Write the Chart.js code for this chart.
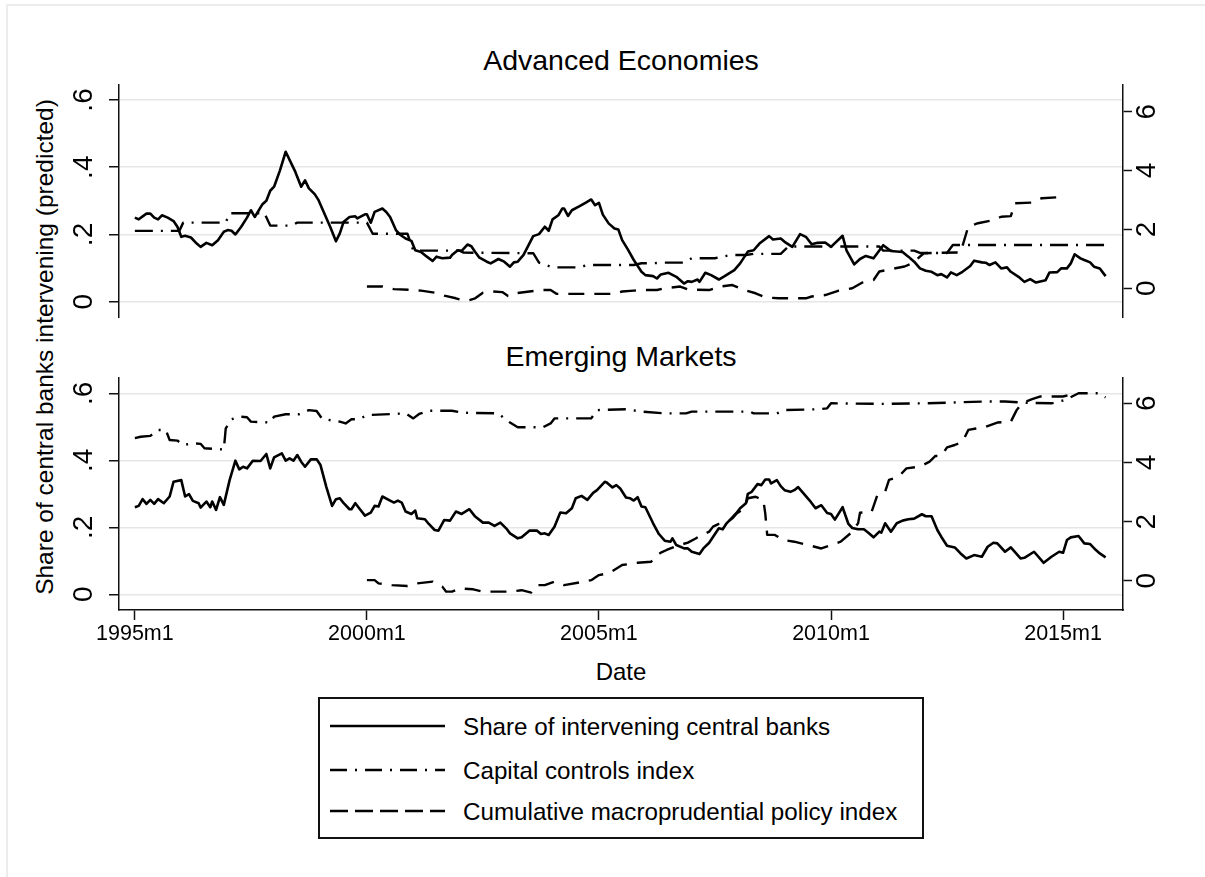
<!DOCTYPE html>
<html>
<head>
<meta charset="utf-8">
<title>Share of intervening central banks, capital controls and macroprudential policy</title>
<script src="https://cdn.jsdelivr.net/npm/chart.js@4.4.1/dist/chart.umd.min.js"></script>
<style>
  html, body { margin: 0; padding: 0; background: #fff; }
  body {
    width: 1205px; height: 877px; position: relative; overflow: hidden;
    font-family: 'Liberation Sans', Arial, Helvetica, sans-serif; color: #000;
  }
  .frame {
    position: absolute; left: 6px; top: 4px; right: -10px; bottom: -10px;
    border-top: 2px solid #ececec; border-left: 2px solid #ececec;
  }
  canvas { position: absolute; left: 0; }
  .panel-title {
    position: absolute; left: 119px; width: 1004px; text-align: center;
    font-size: 28.5px; line-height: 32px; white-space: nowrap;
  }
  .y-title {
    position: absolute; left: 45px; top: 347px; white-space: nowrap;
    font-size: 24.5px; line-height: 28px;
    transform: translate(-50%, -50%) rotate(-90deg);
  }
  .x-title {
    position: absolute; left: 119px; width: 1004px; top: 658px; text-align: center;
    font-size: 24px; line-height: 27px;
  }
  .legend-box {
    position: absolute; left: 318px; top: 697px; width: 606px; height: 142px;
    box-sizing: border-box; border: 2px solid #111;
  }
  .key-line { position: absolute; left: 330px; width: 115px; height: 6px; }
  .key-text { position: absolute; left: 463px; font-size: 24.2px; line-height: 27px; white-space: nowrap; }
</style>
</head>
<body>
<div class="frame"></div>

<div class="panel-title" style="top:44px">Advanced Economies</div>
<div class="panel-title" style="top:340px">Emerging Markets</div>
<div class="y-title">Share of central banks intervening (predicted)</div>
<div class="x-title">Date</div>

<canvas id="aePanel" width="1205" height="234" style="top:84px"></canvas>
<canvas id="emPanel" width="1205" height="273" style="top:377px"></canvas>

<div class="legend-box"></div>
<svg class="key-line" style="top:723px"><line x1="0" y1="3" x2="115" y2="3" stroke="#000" stroke-width="2.4"/></svg>
<div class="key-text" style="top:713px">Share of intervening central banks</div>
<svg class="key-line" style="top:767px"><line x1="0" y1="3" x2="115" y2="3" stroke="#000" stroke-width="2.4" stroke-dasharray="17 8 2 8"/></svg>
<div class="key-text" style="top:757px">Capital controls index</div>
<svg class="key-line" style="top:808px"><line x1="0" y1="3" x2="115" y2="3" stroke="#000" stroke-width="2.4" stroke-dasharray="18 7"/></svg>
<div class="key-text" style="top:798px">Cumulative macroprudential policy index</div>

<script>
// months are counted from 1995m1 = 0
var xTickMonths = [0, 60, 120, 180, 240];
var xTickLabels = ['1995m1', '2000m1', '2005m1', '2010m1', '2015m1'];
var shareTicks = [0, 0.2, 0.4, 0.6];
var indexTicks = [0, 2, 4, 6];

// Advanced economies: share of intervening central banks (left axis)
var aeShareMonths = [
  0, 1, 3, 4, 5, 6, 7, 8.5, 10, 11,
  12, 13, 14.5, 16, 17, 18.5, 20, 21.5, 23, 24,
  25, 26, 27.5, 29, 30, 31, 33, 34, 35, 36,
  37.5, 39, 40.5, 41.5, 43, 44, 45, 46.5, 47.5, 49,
  50.5, 52, 53, 54, 55.5, 57, 57.5, 59.5, 60, 61,
  62, 64, 65, 66, 67.5, 68.5, 70, 71.5, 72.5, 74,
  75.5, 77, 78, 79.5, 81.5, 82, 83.5, 84.5, 86, 87,
  88, 89, 91, 92, 94, 95.5, 97, 98, 99, 100.5,
  103, 104.5, 106, 107, 108, 109.5, 110.5, 111, 112, 113,
  115, 116.5, 118, 119, 120, 121, 122.5, 124, 125, 126,
  127.5, 129, 131, 132, 134, 135, 136, 138, 140, 142,
  143, 144, 145.5, 146, 147.5, 149, 151, 152.5, 155, 156.5,
  158.5, 160, 161.5, 164, 165, 167, 168, 170, 172, 173.5,
  175, 176.5, 178.5, 180, 183, 184, 186, 187.5, 189, 191,
  193.5, 195.5, 198.5, 200, 201.5, 203, 204.5, 206, 207.5, 208.5,
  210, 211, 212.5, 214, 216, 217, 219, 220, 221, 222.5,
  224, 225.5, 226.5, 228.5, 230, 231.5, 233, 235.5, 236.5, 238.5,
  239.5, 241, 242, 243, 244.5, 245.5, 247, 248, 249.5, 251
];
var aeShare = [
  .25, .245, .262, .262, .25, .245, .257, .25, .24, .223,
  .193, .196, .191, .173, .163, .175, .168, .183, .208, .213,
  .211, .2, .223, .25, .272, .252, .29, .3, .33, .342,
  .39, .446, .41, .386, .342, .361, .337, .32, .302, .262,
  .223, .18, .203, .238, .252, .254, .248, .26, .26, .235,
  .267, .277, .267, .252, .213, .2, .188, .181, .153, .148,
  .134, .121, .134, .129, .131, .139, .153, .151, .17, .165,
  .148, .132, .119, .114, .127, .119, .104, .117, .119, .139,
  .195, .201, .223, .211, .245, .257, .277, .277, .255, .272,
  .284, .294, .304, .287, .294, .259, .233, .218, .215, .183,
  .155, .124, .089, .079, .076, .069, .081, .086, .074, .054,
  .061, .059, .066, .059, .086, .079, .066, .076, .094, .114,
  .149, .153, .173, .195, .185, .188, .178, .163, .201, .193,
  .171, .175, .176, .163, .196, .153, .111, .127, .136, .129,
  .168, .151, .148, .134, .119, .099, .092, .089, .079, .082,
  .072, .087, .079, .089, .106, .122, .117, .116, .109, .117,
  .099, .102, .089, .074, .059, .067, .057, .064, .087, .088,
  .099, .099, .114, .141, .129, .124, .117, .104, .099, .076
];

// Advanced economies: capital controls index (right axis)
var aeCapitalMonths = [0, 11.5, 12.5, 23.5, 24.5, 33.5, 35, 40.5, 42, 60, 61.5, 70.5, 72, 84, 85, 103, 104.5, 108, 115, 117,
  129, 131, 134, 136, 142, 144, 150, 154, 158, 160, 167, 169, 192.5, 193.5, 201.5, 203, 210, 211.5, 251];
var aeCapital = [1.95, 1.95, 2.23, 2.23, 2.55, 2.55, 2.13, 2.13, 2.23, 2.23, 1.85, 1.85, 1.28, 1.28, 1.21, 1.19, 0.87, 0.71, 0.71, 0.79,
  0.79, 0.85, 0.85, 0.87, 0.87, 1.02, 1.02, 1.13, 1.13, 1.17, 1.17, 1.42, 1.42, 1.28, 1.28, 1.2, 1.2, 1.47, 1.47];

// Advanced economies: cumulative macroprudential policy index (right axis)
var aeMacroMonths = [60, 64, 67, 71, 74, 77.5, 80, 83, 84.5, 86.5, 88, 90, 92.5, 95, 96.5, 98.5, 102, 105.5, 107.5, 109,
  124, 126, 129, 132, 135, 137, 141, 143, 148.5, 151.5, 154.5, 157.5, 160.5, 163, 166.5, 173.5, 175, 178.5, 182, 185.5,
  188, 191, 192.5, 195.5, 199, 201, 204, 213.5, 215.5, 218, 221.5, 224, 226.5, 227.5, 232, 234.5, 238.5];
var aeMacro = [0.06, 0.06, -0.03, -0.05, -0.08, -0.15, -0.25, -0.34, -0.4, -0.4, -0.34, -0.15, -0.11, -0.13, -0.26, -0.17, -0.11, -0.06, -0.06, -0.19,
  -0.19, -0.11, -0.08, -0.06, -0.06, 0, 0.06, -0.04, -0.06, 0.06, 0.11, -0.06, -0.17, -0.31, -0.34, -0.34, -0.28, -0.23, -0.08, 0,
  0.19, 0.28, 0.57, 0.65, 0.74, 0.85, 1.19, 1.22, 2.1, 2.21, 2.3, 2.43, 2.45, 2.89, 2.91, 3.06, 3.09];

// Emerging markets: share of intervening central banks (left axis)
var emShareMonths = [
  0, 1, 2, 3, 4, 5, 6, 7.5, 9, 10,
  12, 13, 14, 15, 16.5, 17, 18.5, 19.5, 20, 21,
  22, 23, 24.5, 26, 27, 28, 29, 30.5, 32.5, 34,
  35, 36, 38, 39, 40, 41, 42, 43, 44, 45.5,
  47, 48, 49.5, 51, 52, 53, 54, 55.5, 56, 57,
  58, 59.5, 61, 62, 63, 64, 66, 67, 68, 69,
  70, 71.5, 72.5, 73, 75, 76, 77.5, 78.5, 80, 81.5,
  83, 84.5, 86.5, 88, 90, 91.5, 93, 94.5, 96, 97,
  99, 100, 102, 104, 105, 106, 107, 108.5, 110, 111.5,
  113, 114, 115.5, 117, 118.5, 119.5, 121.5, 122, 123.5, 124.5,
  125.5, 127, 128, 129, 130, 131, 132, 134, 135.5, 137,
  138.5, 139, 140, 142, 143, 144, 146, 147, 148.5, 150,
  151, 152, 153, 154, 155.5, 156.5, 158, 158.5, 159.5, 161,
  162, 163, 164, 164.5, 166, 167, 168, 169.5, 170.5, 171.5,
  173, 174.5, 176, 177.5, 179, 180, 181, 183, 184.5, 185.5,
  187, 188.5, 189.5, 191, 192.5, 193, 194, 195.5, 197, 198.5,
  200, 201.5, 203.5, 204.5, 206, 207.5, 208.5, 210, 212, 213.5,
  215, 217, 219, 220.5, 222, 223, 225, 226.5, 229, 230,
  232.5, 235, 237, 239, 240, 241, 242, 244, 245.5, 247,
  248.5, 249.5, 251
];
var emShare = [
  .26, .264, .284, .27, .282, .27, .284, .272, .292, .336,
  .341, .292, .299, .279, .272, .259, .277, .26, .277, .252,
  .29, .267, .341, .399, .373, .381, .376, .399, .398, .419,
  .376, .409, .421, .399, .406, .399, .416, .396, .381, .403,
  .403, .386, .321, .264, .284, .287, .272, .254, .254, .272,
  .257, .235, .244, .264, .262, .292, .28, .274, .28, .274,
  .247, .24, .25, .227, .224, .21, .192, .19, .222, .22,
  .247, .24, .254, .232, .214, .214, .204, .214, .197, .182,
  .167, .17, .19, .19, .18, .182, .177, .202, .244, .242,
  .257, .287, .294, .282, .303, .311, .336, .334, .319, .326,
  .316, .289, .287, .28, .29, .262, .26, .212, .18, .16,
  .157, .167, .147, .137, .137, .127, .12, .137, .154, .18,
  .197, .194, .212, .224, .242, .257, .272, .3, .306, .329,
  .326, .343, .343, .331, .341, .323, .311, .306, .311, .32,
  .3, .28, .257, .266, .243, .24, .223, .26, .21, .198,
  .194, .194, .185, .17, .187, .184, .212, .187, .212, .22,
  .224, .226, .239, .233, .233, .192, .172, .145, .14, .122,
  .107, .117, .112, .142, .154, .152, .127, .14, .107, .109,
  .127, .094, .112, .127, .124, .162, .17, .174, .152, .15,
  .132, .122, .11
];

// Emerging markets: capital controls index (right axis)
var emCapitalMonths = [0, 1.5, 4, 6, 8, 9, 11, 12.5, 15, 17, 18, 23, 23.5, 25, 27, 29, 30, 35, 36, 39,
  42.5, 45, 47, 48.5, 50, 53, 54.5, 56, 58, 60, 70, 72, 73.5, 76, 82, 85, 94, 95.5, 97, 99,
  105.5, 107.5, 108.5, 118, 119.5, 127, 131, 137, 142.5, 144, 159, 160, 166, 168, 177, 179, 180, 193, 204, 220,
  225, 230, 237, 240.5, 244, 249, 251];
var emCapital = [4.82, 4.87, 4.9, 5.1, 5.1, 4.76, 4.74, 4.59, 4.65, 4.63, 4.48, 4.44, 5.15, 5.46, 5.55, 5.53, 5.38, 5.35, 5.55, 5.63,
  5.63, 5.77, 5.74, 5.46, 5.44, 5.38, 5.32, 5.46, 5.46, 5.6, 5.66, 5.49, 5.64, 5.75, 5.75, 5.68, 5.66, 5.49, 5.35, 5.19,
  5.19, 5.32, 5.49, 5.49, 5.77, 5.8, 5.72, 5.66, 5.66, 5.72, 5.72, 5.66, 5.66, 5.77, 5.8, 5.83, 6.0, 5.98, 6.0, 6.06,
  6.06, 6.02, 6.0, 6.11, 6.34, 6.34, 6.2];

// Emerging markets: cumulative macroprudential policy index (right axis)
var emMacroMonths = [60, 62, 63, 66.5, 70.5, 73, 77, 79.5, 80.5, 82, 84, 87.5, 90, 97, 100, 102.5, 104, 106, 108.5, 111,
  114.5, 118, 120, 121.5, 123.5, 126, 130, 133.5, 134.5, 136, 137.5, 140, 143, 145, 146, 148.5, 149.5, 151, 153, 154.5,
  155.5, 157.5, 158.5, 160.5, 162.5, 163, 163.5, 165.5, 167.5, 170.5, 174, 177.5, 180, 182.5, 185, 187, 187.5, 190.5, 192, 194,
  195, 197.5, 199.5, 203, 205.5, 207, 208.5, 210, 212, 214, 215.5, 217.5, 220, 223, 226.5, 228, 229.5, 232, 234, 240, 243.5];
var emMacro = [0.02, 0.02, -0.09, -0.15, -0.18, -0.09, -0.03, -0.2, -0.37, -0.37, -0.26, -0.29, -0.37, -0.37, -0.32, -0.4, -0.15, -0.15, -0.03, -0.15,
  -0.07, 0.02, 0.19, 0.23, 0.33, 0.53, 0.61, 0.64, 0.81, 0.95, 1.04, 1.17, 1.29, 1.43, 1.51, 1.66, 1.83, 1.92, 1.96, 2.11,
  2.26, 2.45, 2.79, 2.84, 2.73, 2.28, 1.55, 1.55, 1.38, 1.32, 1.21, 1.09, 1.21, 1.32, 1.6, 1.94, 2.3, 2.33, 2.9, 3.01,
  3.41, 3.52, 3.8, 3.86, 4.03, 4.22, 4.22, 4.51, 4.59, 4.7, 5.1, 5.15, 5.21, 5.35, 5.38, 5.77, 6.02, 6.14, 6.23, 6.23, 6.34];

var FONT = "'Liberation Sans', Arial, Helvetica, sans-serif";
var AXIS_COLOR = '#111';
var GRID_COLOR = '#e6e6e6';
var CAPITAL_DASH = [18, 8, 2, 8];
var MACRO_DASH = [16, 10];

function toPoints(months, values) {
  return months.map(function (m, i) {
    return { x: m, y: values[i] };
  });
}

function lineSet(label, months, values, axisId, dash, width) {
  return {
    label: label,
    data: toPoints(months, values),
    yAxisID: axisId,
    borderColor: '#000',
    borderWidth: width,
    borderDash: dash,
    borderCapStyle: 'butt',
    borderJoinStyle: 'round',
    pointRadius: 0,
    tension: 0,
    fill: false
  };
}

function fixedTicks(values) {
  return function (scale) {
    scale.ticks = values.map(function (v) {
      return { value: v };
    });
  };
}

function makePanel(canvasId, datasets, shareMin, shareMax, indexMin, indexMax, withDates) {
  return new Chart(document.getElementById(canvasId), {
    type: 'line',
    data: { datasets: datasets },
    options: {
      responsive: false,
      animation: false,
      events: [],
      layout: { padding: 0 },
      plugins: {
        legend: { display: false },
        title: { display: false },
        tooltip: { enabled: false }
      },
      scales: {
        x: {
          type: 'linear',
          min: -4.1,
          max: 255.5,
          bounds: 'data',
          display: withDates,
          afterBuildTicks: fixedTicks(xTickMonths),
          afterFit: function (scale) {
            if (withDates) {
              scale.height = 40;
            }
            scale.paddingLeft = 0;
            scale.paddingRight = 0;
          },
          ticks: {
            autoSkip: false,
            minRotation: 0,
            maxRotation: 0,
            padding: 1.5,
            color: '#000',
            font: { family: FONT, size: 21.5 },
            callback: function (value, index) {
              return xTickLabels[index];
            }
          },
          grid: { drawOnChartArea: false, tickLength: 10, tickColor: AXIS_COLOR, tickWidth: 1.5 },
          border: { display: true, color: AXIS_COLOR, width: 1.5 }
        },
        yShare: {
          type: 'linear',
          position: 'left',
          min: shareMin,
          max: shareMax,
          bounds: 'data',
          afterBuildTicks: fixedTicks(shareTicks),
          afterFit: function (scale) {
            scale.width = 119;
            scale.paddingTop = 0;
            scale.paddingBottom = 0;
          },
          ticks: {
            minRotation: 90,
            maxRotation: 90,
            crossAlign: 'center',
            padding: 13,
            color: '#000',
            font: { family: FONT, size: 28 },
            callback: function (value) {
              return value === 0 ? '0' : value.toFixed(1).replace(/^0/, '');
            }
          },
          grid: { color: GRID_COLOR, lineWidth: 1.5, tickLength: 10, tickColor: AXIS_COLOR, tickWidth: 1.5 },
          border: { display: true, color: AXIS_COLOR, width: 1.5 }
        },
        yIndex: {
          type: 'linear',
          position: 'right',
          min: indexMin,
          max: indexMax,
          bounds: 'data',
          afterBuildTicks: fixedTicks(indexTicks),
          afterFit: function (scale) {
            scale.width = 82;
            scale.paddingTop = 0;
            scale.paddingBottom = 0;
          },
          ticks: {
            minRotation: 90,
            maxRotation: 90,
            crossAlign: 'center',
            padding: 7,
            color: '#000',
            font: { family: FONT, size: 28 },
            callback: function (value) {
              return String(value);
            }
          },
          grid: { drawOnChartArea: false, tickLength: 9, tickColor: AXIS_COLOR, tickWidth: 1.5 },
          border: { display: true, color: AXIS_COLOR, width: 1.5 }
        }
      }
    }
  });
}

makePanel('aePanel', [
  lineSet('Share of intervening central banks', aeShareMonths, aeShare, 'yShare', [], 2.6),
  lineSet('Capital controls index', aeCapitalMonths, aeCapital, 'yIndex', CAPITAL_DASH, 2.4),
  lineSet('Cumulative macroprudential policy index', aeMacroMonths, aeMacro, 'yIndex', MACRO_DASH, 2.4)
], -0.0485, 0.6475, -1.01, 6.94, false);

makePanel('emPanel', [
  lineSet('Share of intervening central banks', emShareMonths, emShare, 'yShare', [], 2.6),
  lineSet('Capital controls index', emCapitalMonths, emCapital, 'yIndex', CAPITAL_DASH, 2.4),
  lineSet('Cumulative macroprudential policy index', emMacroMonths, emMacro, 'yIndex', MACRO_DASH, 2.4)
], -0.047, 0.649, -0.99, 6.89, true);
</script>
</body>
</html>
